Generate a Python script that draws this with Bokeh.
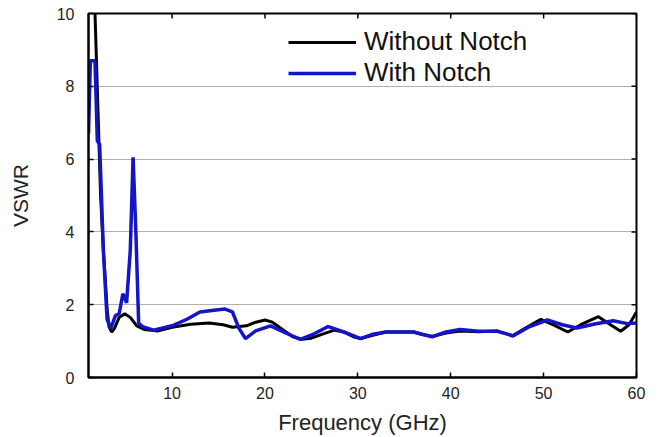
import math
from bokeh.plotting import figure
from bokeh.models import Range1d, Legend, LegendItem, FixedTicker
from bokeh.embed import file_html
from bokeh.resources import INLINE

# Without Notch (black)
freq_without = [1.3, 1.7, 2.0, 2.3, 2.6, 3.0, 3.2, 3.5, 3.8, 4.3, 4.9, 5.5, 6.2, 7.0, 8.5, 10, 12, 14, 15.5,
                16.5, 18, 19, 20, 20.8, 22, 23, 24, 25, 26.5, 27.5, 28.5, 29.5, 30.3, 31.5, 33, 36, 37, 38,
                39.5, 41, 43, 45, 46, 46.7, 48, 49.7, 51, 52.6, 54, 55.9, 57.2, 58.3, 59.2, 60]
vswr_without = [12.0, 10.0, 7.5, 5.0, 3.5, 1.9, 1.4, 1.25, 1.35, 1.65, 1.75, 1.65, 1.42, 1.32, 1.28, 1.38, 1.46,
                1.5, 1.45, 1.38, 1.42, 1.52, 1.58, 1.52, 1.3, 1.12, 1.05, 1.08, 1.22, 1.3, 1.25, 1.12, 1.07, 1.15,
                1.25, 1.25, 1.18, 1.13, 1.22, 1.28, 1.26, 1.28, 1.2, 1.15, 1.35, 1.6, 1.45, 1.25, 1.45, 1.67,
                1.45, 1.27, 1.45, 1.8]

# With Notch (blue)
freq_with = [1.0, 1.2, 1.7, 1.95, 2.2, 2.6, 3.0, 3.4, 3.9, 4.3, 4.7, 5.1, 5.5, 5.8, 6.1, 6.4, 6.8, 8, 10,
             11.6, 13, 14.5, 15.7, 16.5, 17.2, 17.9, 19, 20.6, 22, 23.8, 25.3, 26.8, 28.5, 30.3, 31.5, 33, 36,
             37, 38, 39.5, 41, 43, 45, 46, 46.7, 48.5, 50.4, 52, 53.6, 55.5, 57.5, 59, 60]
vswr_with = [6.7, 8.7, 8.7, 6.5, 6.4, 3.5, 1.6, 1.35, 1.7, 1.75, 2.3, 2.05, 3.5, 6.05, 4.0, 1.5, 1.4, 1.3, 1.42,
             1.6, 1.8, 1.85, 1.88, 1.8, 1.35, 1.07, 1.28, 1.42, 1.25, 1.05, 1.2, 1.4, 1.25, 1.07, 1.18, 1.25, 1.25,
             1.18, 1.12, 1.25, 1.32, 1.27, 1.27, 1.2, 1.14, 1.4, 1.58, 1.45, 1.36, 1.47, 1.56, 1.48, 1.5]

x_ticks = [10, 20, 30, 40, 50, 60]
y_ticks = [0, 2, 4, 6, 8, 10]
x_start, x_end = 1, 60
y_start, y_end = 0, 10

FONT = "Liberation Sans"

p = figure(width=658, height=437, output_backend="svg", toolbar_location=None,
           x_range=Range1d(x_start, x_end), y_range=Range1d(y_start, y_end),
           min_border_left=88, min_border_right=22, min_border_top=13, min_border_bottom=58)

p.background_fill_color = "white"
p.border_fill_color = "white"
p.outline_line_color = "black"
p.outline_line_width = 2

r1 = p.line(freq_without, vswr_without, line_color="black", line_width=3)
r2 = p.line(freq_with, vswr_with, line_color="#1414c8", line_width=3.5)

# inward tick marks on the top and right edges (clipped to the frame)
p.scatter(x=x_ticks, y=[y_end] * len(x_ticks), marker="dash", angle=math.pi / 2,
          size=10, line_color="black", line_width=1.5)
p.scatter(x=[x_end] * len(y_ticks), y=y_ticks, marker="dash", angle=0,
          size=10, line_color="black", line_width=1.5)

p.xgrid.visible = False
p.ygrid.ticker = FixedTicker(ticks=[2, 4, 6, 8])
p.ygrid.grid_line_color = "#b0b0b0"
p.ygrid.grid_line_width = 1

for ax, ticks in ((p.xaxis[0], x_ticks), (p.yaxis[0], y_ticks)):
    ax.ticker = FixedTicker(ticks=ticks)
    ax.major_tick_in = 5
    ax.major_tick_out = 0
    ax.minor_tick_line_color = None
    ax.axis_line_color = "black"
    ax.axis_line_width = 2
    ax.major_tick_line_width = 1.5
    ax.major_label_text_font = FONT
    ax.major_label_text_font_size = "16px"
    ax.major_label_text_color = "#222222"
    ax.axis_label_text_font = FONT
    ax.axis_label_text_font_style = "normal"
    ax.axis_label_text_color = "#222222"

p.xaxis[0].axis_label = "Frequency (GHz)"
p.yaxis[0].axis_label = "VSWR"
p.xaxis[0].axis_label_text_font_size = "22px"
p.yaxis[0].axis_label_text_font_size = "21px"
p.xaxis[0].major_label_standoff = 9
p.yaxis[0].major_label_standoff = 14
p.yaxis[0].axis_label_standoff = 22
p.xaxis[0].axis_label_standoff = 8

legend = Legend(items=[LegendItem(label="Without Notch", renderers=[r1]),
                       LegendItem(label="With Notch", renderers=[r2])],
                location=(200, 289))
legend.background_fill_alpha = 0
legend.border_line_color = None
legend.label_text_font = FONT
legend.label_text_font_size = "26px"
legend.label_text_color = "#111111"
legend.glyph_width = 68
legend.glyph_height = 30
legend.label_height = 30
legend.spacing = 0
legend.padding = 5
legend.label_standoff = 8
p.add_layout(legend, "center")

open("out.html", "w").write(file_html(p, INLINE))
